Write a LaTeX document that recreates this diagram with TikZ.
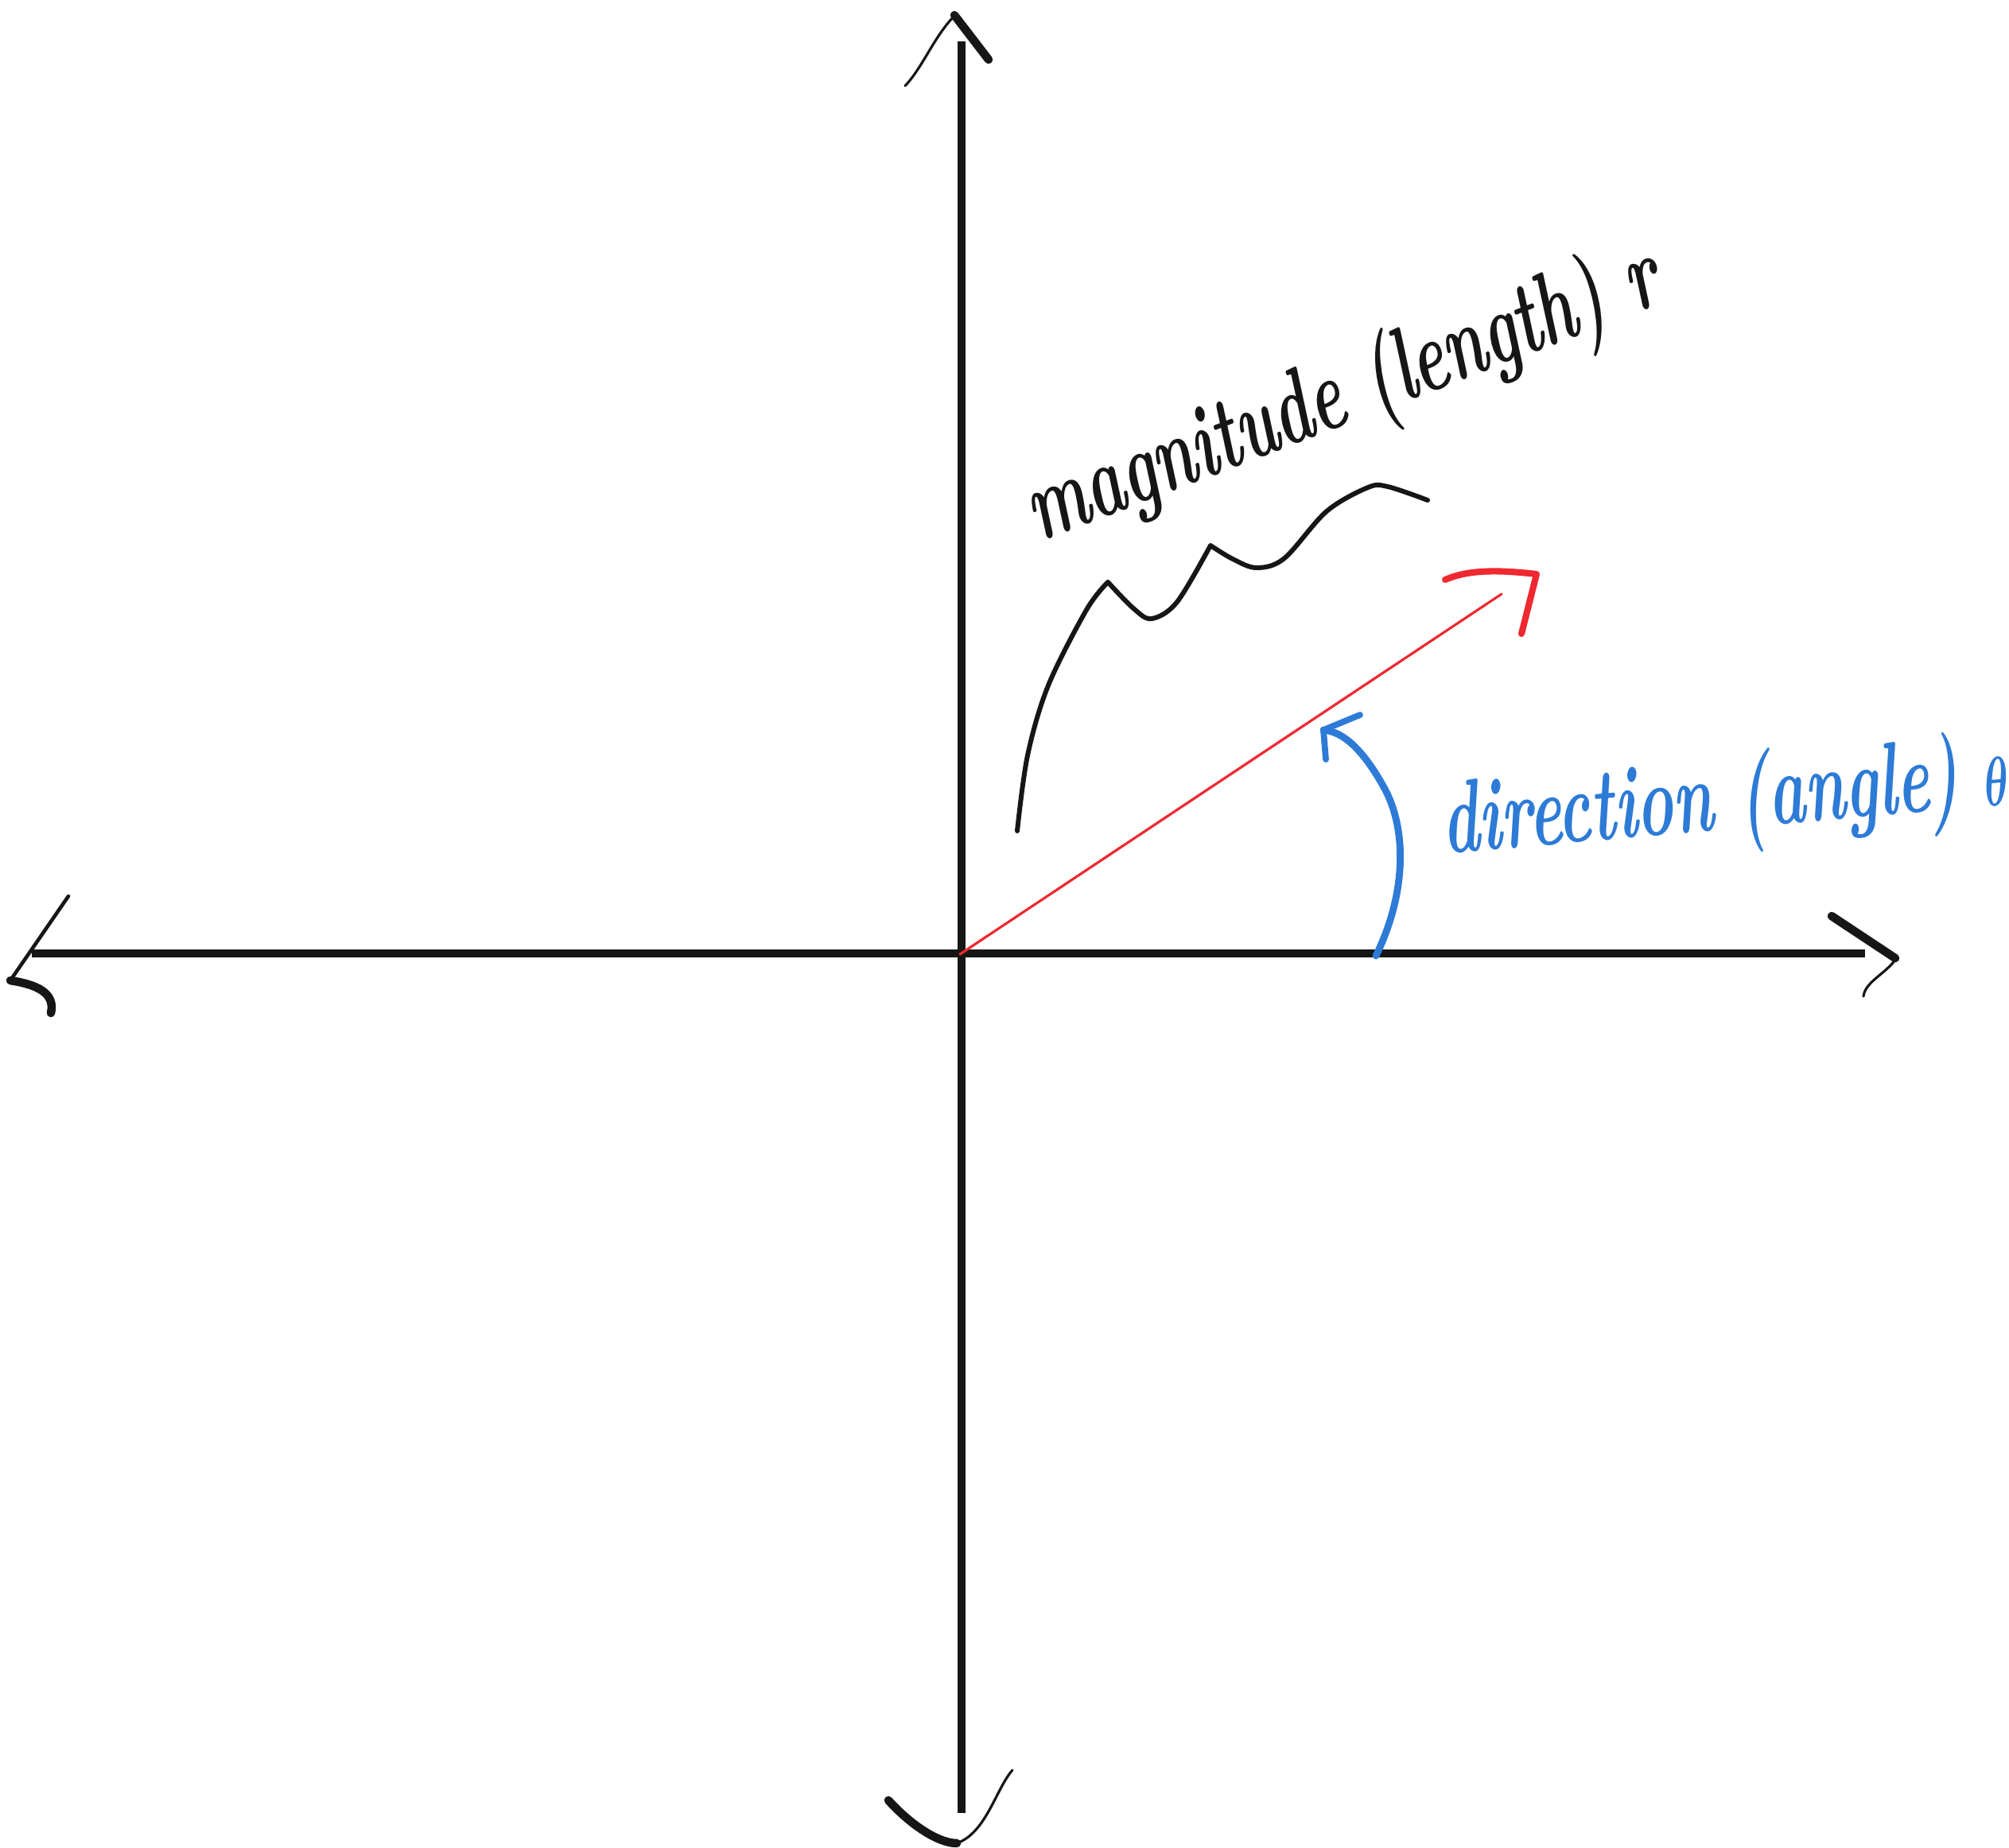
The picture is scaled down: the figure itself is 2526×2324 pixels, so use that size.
\documentclass[tikz,border=0pt]{standalone}
\usepackage{graphicx}
\definecolor{ink}{RGB}{22,22,22}
\definecolor{vred}{RGB}{240,40,48}
\definecolor{vblue}{RGB}{45,123,214}
\begin{document}
\begin{tikzpicture}[x=0.01cm,y=-0.01cm,line join=round,line cap=round,
  axis/.style={draw=ink,line width=2.6pt,line cap=butt},
  thickarm/.style={draw=ink,line width=3pt},
  thinarm/.style={draw=ink,line width=0.9pt},
  vecline/.style={draw=vred,line width=0.9pt},
  vechead/.style={draw=vred,line width=2.3pt},
  anglearc/.style={draw=vblue,line width=2.5pt},
  anglehead/.style={draw=vblue,line width=2.2pt},
  bracepath/.style={draw=ink,line width=1.7pt},
  magtext/.style={text=ink,font=\bfseries\itshape\fontsize{37}{40}\selectfont,inner sep=0pt},
  dirtext/.style={text=vblue,font=\boldmath\bfseries\itshape\fontsize{37}{40}\selectfont,inner sep=0pt}]
\fill[white] (0,0) rectangle (2526,2324);
\useasboundingbox (0,0) rectangle (2526,2324);

% named points
\coordinate (O) at (1207,1200);
\coordinate (xL) at (40,1199);
\coordinate (xR) at (2345,1199);
\coordinate (yT) at (1209,52);
\coordinate (yB) at (1209,2280);
\coordinate (vEnd) at (1888,747);
\coordinate (aStart) at (1730,1202);
\coordinate (aTip) at (1664,918);

% axes
\draw[axis] (xL) -- (xR);
\draw[axis] (yT) -- (yB);

% top arrowhead
\draw[thickarm] (1200,19) -- (1243,75);
\draw[thinarm] (1200,20) .. controls (1175,45) and (1160,85) .. (1138,108);
% left arrowhead
\draw[thinarm,line width=1.3pt] (13,1233) -- (86,1127);
\draw[thickarm] (13,1233) .. controls (45,1238) and (70,1248) .. (64,1274);
% right arrowhead
\draw[thickarm] (2303,1152) -- (2383,1205);
\draw[thinarm] (2383,1207) .. controls (2370,1225) and (2345,1235) .. (2343,1253);
% bottom arrowhead
\draw[thickarm] (1117,2264) .. controls (1145,2295) and (1180,2318) .. (1203,2318);
\draw[thinarm] (1203,2318) .. controls (1240,2305) and (1252,2250) .. (1273,2226);

% red vector
\draw[vecline] (O) -- (vEnd);
\draw[vechead] (1817,729) .. controls (1845,717) and (1880,716) .. (1932,722) -- (1913,797);

% blue angle arc
\draw[anglearc] (aStart) .. controls (1770,1120) and (1768,1040) .. (1740,990)
  .. controls (1715,945) and (1690,920) .. (aTip);
\draw[anglehead] (1667,955) -- (aTip) -- (1710,899);

% brace
\draw[bracepath] plot[smooth,tension=0.55] coordinates {(1279,1045) (1292,950) (1318,862) (1366,767) (1393,732)}
  plot[smooth,tension=0.55] coordinates {(1393,732) (1425,765) (1448,778) (1480,757) (1522,686)}
  plot[smooth,tension=0.55] coordinates {(1522,686) (1550,703) (1580,714) (1615,702) (1668,643) (1720,613) (1745,612) (1795,629)};

% labels
\node[magtext,rotate=21] (mag) at (1690,500) {\scalebox{0.62}[1]{magnitude (length) r}};
\node[dirtext,rotate=5] (dir) at (2170,1010) {\scalebox{0.6}[1]{direction (angle) $\theta$}};
\end{tikzpicture}
\end{document}
